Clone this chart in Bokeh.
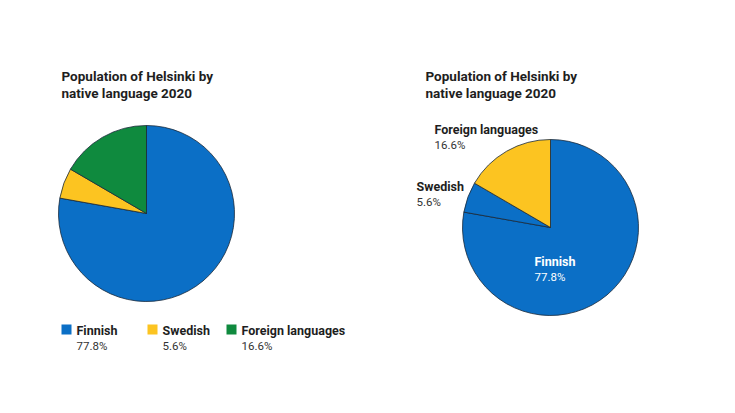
import math
from bokeh.plotting import figure
from bokeh.models import Range1d
from bokeh.core.properties import value
from bokeh.embed import file_html
from bokeh.resources import INLINE

# data
categories = ["Finnish", "Swedish", "Foreign languages"]
shares = [77.8, 5.6, 16.6]
pct_labels = ["77.8%", "5.6%", "16.6%"]
title_lines = ["Population of Helsinki by", "native language 2020"]

left_colors = ["#0b6fc6", "#fcc421", "#0f8a3e"]
right_colors = ["#0b6fc6", "#0b6fc6", "#fcc421"]

W, H = 719, 397
p = figure(width=W, height=H, output_backend="svg", toolbar_location=None,
           x_range=Range1d(0, W), y_range=Range1d(8, 8 + H),
           min_border=0, outline_line_color=None)
p.axis.visible = False
p.grid.visible = False
p.background_fill_color = "white"
p.border_fill_color = "white"


def Y(py):
    return 405 - py


FONT = value("Roboto")
DARK = "#1e1e1e"


def wedges(cx, cy, r, colors):
    tot = sum(shares)
    cum = 0.0
    starts, ends = [], []
    for s in shares:
        starts.append(math.pi / 2 - 2 * math.pi * cum / tot)
        cum += s
        ends.append(math.pi / 2 - 2 * math.pi * cum / tot)
    p.wedge(x=[cx] * len(shares), y=[Y(cy)] * len(shares), radius=r,
            start_angle=starts, end_angle=ends, direction="clock",
            fill_color=colors, line_color="#1b2a3a", line_width=0.8)


def title(x, y):
    p.text(x=[x, x], y=[Y(y), Y(y + 17)], text=title_lines,
           text_font=FONT, text_font_style="bold", text_font_size="13.5px",
           text_color=DARK, text_baseline="middle", text_align="left")


def label(x, y, name, pct, color=DARK, pcolor="#333333"):
    p.text(x=[x], y=[Y(y)], text=[name], text_font=FONT, text_font_style="bold",
           text_font_size="12.5px", text_color=color, text_baseline="middle")
    p.text(x=[x], y=[Y(y + 15)], text=[pct], text_font=FONT,
           text_font_size="11.5px", text_color=pcolor, text_baseline="middle")


# left chart
title(61, 75)
wedges(146, 213, 88, left_colors)
leg_x = [61, 147, 226]
for i, c in enumerate(categories):
    p.rect(x=[leg_x[i] + 5], y=[Y(329)], width=10, height=10,
           fill_color=left_colors[i], line_color=None)
    label(leg_x[i] + 15, 330, c, pct_labels[i])

# right chart
title(425, 75)
wedges(550, 227, 88, right_colors)
label(434, 129, categories[2], pct_labels[2])
label(416, 186, categories[1], pct_labels[1])
label(534, 261, categories[0], pct_labels[0], color="white", pcolor="white")

open("out.html", "w").write(file_html(p, INLINE))
